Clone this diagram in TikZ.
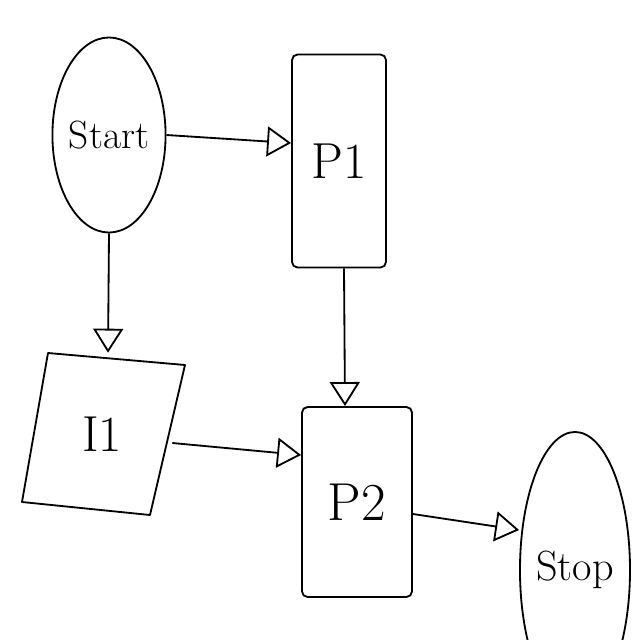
\documentclass[tikz,border=0pt]{standalone}
\usetikzlibrary{shapes.geometric,arrows.meta,calc}
\tikzset{
  ink/.style={line width=1.3pt, draw=black},
  ovalnode/.style={ink, ellipse, inner sep=0pt},
  boxnode/.style={ink, rectangle, rounded corners=4pt, inner sep=0pt},
  arr/.style={ink, -{Triangle[open, length=0.6cm, width=0.75cm, line width=1.3pt]}}
}
\begin{document}
\begin{tikzpicture}[x=0.025cm, y=-0.025cm]
  \useasboundingbox (0,0) rectangle (640,640);
  \clip (0,0) rectangle (640,640);
  \fill[white] (0,0) rectangle (640,640);

  % nodes
  \node[ovalnode, minimum width=2.45cm, minimum height=4.875cm] (start) at (109,135)
    {\fontsize{28}{32}\selectfont Start};
  \node[boxnode, minimum width=2.35cm, minimum height=5.325cm] (p1) at (339,161)
    {\fontsize{36}{40}\selectfont P1};
  \node[boxnode, minimum width=2.75cm, minimum height=4.75cm] (p2) at (357,502)
    {\fontsize{38}{42}\selectfont P2};
  \node[ovalnode, minimum width=2.75cm, minimum height=6.9cm] (stop) at (575,570)
    {\fontsize{30}{34}\selectfont Stop};

  % input parallelogram
  \coordinate (i1tl) at (48,353);
  \coordinate (i1tr) at (185,365);
  \coordinate (i1br) at (150,515);
  \coordinate (i1bl) at (22,502);
  \draw[ink, line join=round] (i1tl) -- (i1tr) -- (i1br) -- (i1bl) -- cycle;
  \node[inner sep=0pt, minimum width=3cm, minimum height=3.8cm] (i1) at (102,434)
    {\fontsize{36}{40}\selectfont I1};

  % connectors
  \draw[arr] (start.east) -- ($(p1.west)+(0,-18)$);
  \draw[arr] (start.south) -- ($(i1.north)+(6,-5)$);
  \draw[arr] ($(p1.south)+(5,0)$) -- ($(p2.north)+(-12,0)$);
  \draw[arr] ($(i1.east)+(10,9)$) -- ($(p2.west)+(0,-47)$);
  \draw[arr] ($(p2.east)+(0,12)$) -- ($(stop.west)+(0,-40)$);
\end{tikzpicture}
\end{document}
